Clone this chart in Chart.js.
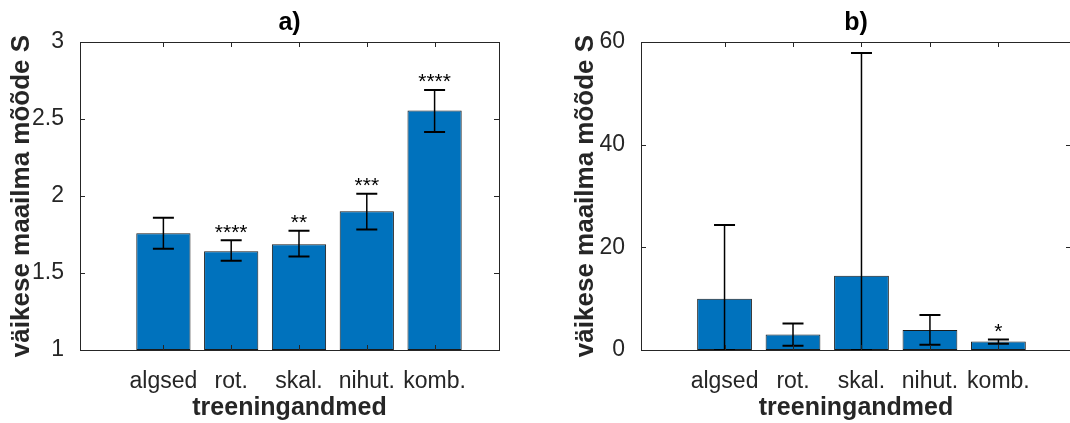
<!DOCTYPE html>
<html>
<head>
<meta charset="utf-8">
<script src="https://cdn.jsdelivr.net/npm/chart.js@4"></script>
<style>
  html, body { margin: 0; padding: 0; background: #fff; overflow: hidden; width: 1070px; height: 423px; }
  .wrap { position: absolute; top: 0; height: 423px; }
  #wa { left: 0; width: 530px; }
  #wb { left: 540px; width: 550px; }
</style>
</head>
<body>
<div class="wrap" id="wa"><canvas id="chartA"></canvas></div>
<div class="wrap" id="wb"><canvas id="chartB"></canvas></div>
<script>
const categories = ['algsed', 'rot.', 'skal.', 'nihut.', 'komb.'];

// a) keskmised ja vearibad
const meanA = [1.758, 1.642, 1.687, 1.901, 2.555];
const lowA = [1.658, 1.579, 1.607, 1.782, 2.415];
const highA = [1.859, 1.713, 1.775, 2.015, 2.689];
const starsA = ['', '****', '**', '***', '****'];
const ticksA = [1, 1.5, 2, 2.5, 3];

// b)
const meanB = [10.0, 3.03, 14.45, 3.89, 1.68];
const lowB = [0, 0.84, 0, 1.03, 1.22];
const highB = [24.36, 5.17, 57.87, 6.8, 2.06];
const starsB = ['', '', '', '', '*'];
const ticksB = [0, 20, 40, 60];

const FONT = 'Liberation Sans, Arial, Helvetica, sans-serif';
const TXT = '#262626';

const extras = {
  id: 'extras',
  afterDatasetsDraw(chart, args, o) {
    const ctx = chart.ctx, x = chart.scales.x, y = chart.scales.y;
    ctx.save();
    ctx.strokeStyle = '#000';
    o.low.forEach((lo, i) => {
      const px = x.getPixelForValue(i + 1);
      const yl = y.getPixelForValue(lo), yh = y.getPixelForValue(o.high[i]);
      ctx.lineWidth = 1.5;
      ctx.beginPath();
      ctx.moveTo(px, yl); ctx.lineTo(px, yh);
      ctx.stroke();
      ctx.lineWidth = 2;
      ctx.beginPath();
      ctx.moveTo(px - 10.5, yl); ctx.lineTo(px + 10.5, yl);
      ctx.moveTo(px - 10.5, yh); ctx.lineTo(px + 10.5, yh);
      ctx.stroke();
      if (o.stars[i]) {
        ctx.fillStyle = '#000';
        ctx.font = '21px ' + FONT;
        ctx.textAlign = 'center';
        ctx.textBaseline = 'alphabetic';
        ctx.fillText(o.stars[i], px, yh - 1.5);
      }
    });
    ctx.restore();
  },
  afterDraw(chart, args, o) {
    const ctx = chart.ctx, a = chart.chartArea, x = chart.scales.x, y = chart.scales.y;
    ctx.save();
    ctx.strokeStyle = TXT;
    ctx.lineWidth = 1;
    ctx.strokeRect(a.left + 0.5, a.top + 0.5, a.right - a.left, a.bottom - a.top);
    ctx.beginPath();
    categories.forEach((c, i) => {
      const px = Math.round(x.getPixelForValue(i + 1)) + 0.5;
      ctx.moveTo(px, a.bottom); ctx.lineTo(px, a.bottom - 5);
      ctx.moveTo(px, a.top); ctx.lineTo(px, a.top + 5);
    });
    o.yticks.forEach(v => {
      const py = Math.round(y.getPixelForValue(v)) + 0.5;
      ctx.moveTo(a.left, py); ctx.lineTo(a.left + 5, py);
      ctx.moveTo(a.right, py); ctx.lineTo(a.right - 5, py);
    });
    ctx.stroke();
    ctx.fillStyle = '#000';
    ctx.font = 'bold 25px ' + FONT;
    ctx.textAlign = 'center';
    ctx.textBaseline = 'middle';
    ctx.fillText(o.title, (a.left + a.right) / 2, 23);
    ctx.restore();
  }
};

function makeChart(id, mean, low, high, stars, yticks, cfg) {
  return new Chart(document.getElementById(id), {
    type: 'bar',
    data: {
      datasets: [{
        data: categories.map((c, i) => ({ x: i + 1, y: mean[i] })),
        backgroundColor: '#0072BD',
        borderColor: '#1a1a1a',
        borderWidth: 1,
        borderSkipped: false,
        base: cfg.ymin,
        barPercentage: 0.8,
        categoryPercentage: 1
      }]
    },
    options: {
      responsive: true,
      maintainAspectRatio: false,
      animation: false,
      layout: { padding: { top: 42, right: cfg.padRight, left: 0, bottom: 0 } },
      plugins: {
        legend: { display: false },
        tooltip: { enabled: false },
        extras: { low: low, high: high, stars: stars, yticks: yticks, title: cfg.title }
      },
      scales: {
        x: {
          type: 'linear',
          offset: false,
          min: cfg.xmin,
          max: cfg.xmax,
          grid: { display: false },
          border: { display: false },
          afterBuildTicks: s => { s.ticks = categories.map((c, i) => ({ value: i + 1 })); },
          ticks: {
            callback: v => categories[v - 1],
            font: { size: 23, family: FONT },
            color: TXT,
            padding: 10,
            maxRotation: 0,
            autoSkip: false
          },
          title: {
            display: true,
            text: 'treeningandmed',
            font: { size: 25, weight: 'bold', family: FONT },
            color: TXT,
            padding: { top: 0, bottom: 0 }
          },
          afterFit: s => { s.height = 73; }
        },
        y: {
          min: cfg.ymin,
          max: cfg.ymax,
          grid: { display: false },
          border: { display: false },
          afterBuildTicks: s => { s.ticks = yticks.map(v => ({ value: v })); },
          ticks: { callback: v => String(v), font: { size: 23, family: FONT }, color: TXT, padding: 8 },
          title: {
            display: true,
            text: 'väikese maailma mõõde S',
            font: { size: 26, weight: 'bold', family: FONT },
            color: TXT,
            padding: { top: cfg.ytitlePad, bottom: 0 }
          },
          afterFit: s => { s.width = cfg.yWidth; }
        }
      }
    },
    plugins: [extras]
  });
}

makeChart('chartA', meanA, lowA, highA, starsA, ticksA,
  { title: 'a)', xmin: -0.23, xmax: 5.95, ymin: 1, ymax: 3, padRight: 31, yWidth: 80, ytitlePad: 6 });
makeChart('chartB', meanB, lowB, highB, starsB, ticksB,
  { title: 'b)', xmin: -0.22, xmax: 6.06, ymin: 0, ymax: 60, padRight: 19, yWidth: 101, ytitlePad: 30 });
</script>
</body>
</html>
